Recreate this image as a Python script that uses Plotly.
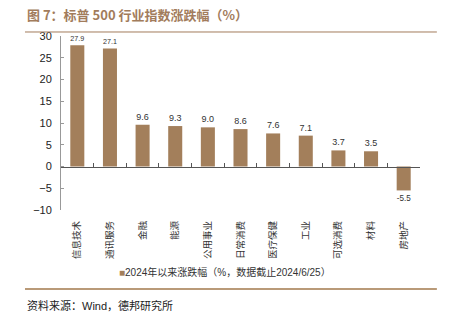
import plotly.graph_objects as go

# S&P 500 sector returns year-to-date (%)
sectors = ["信息技术", "通讯服务", "金融", "能源", "公用事业", "日常消费",
           "医疗保健", "工业", "可选消费", "材料", "房地产"]
returns = [27.9, 27.1, 9.6, 9.3, 9.0, 8.6, 7.6, 7.1, 3.7, 3.5, -5.5]
y_ticks = [-10, -5, 0, 5, 10, 15, 20, 25, 30]

series_name = "2024年以来涨跌幅（%，数据截止2024/6/25）"
title_text = "图 7：标普 500 行业指数涨跌幅（%）"
source_text = "资料来源：Wind，德邦研究所"

BAR = "#a37f5b"
BROWN = "#a27c5c"
FONT = "Liberation Sans, Noto Sans CJK SC, sans-serif"

fig = go.Figure()

fig.add_trace(go.Bar(
    x=sectors, y=returns, name=series_name,
    marker=dict(color=BAR, line=dict(width=0)),
    texttemplate="%{y:.1f}", textposition="outside",
    textfont=dict(size=9, color="#333333", family=FONT),
    cliponaxis=False, hoverinfo="x+y", showlegend=False,
))

# invisible companion trace carrying the category axis drawn at y = 0
fig.add_trace(go.Scatter(
    x=sectors, y=[0] * len(sectors), xaxis="x2", mode="markers",
    marker=dict(opacity=0), showlegend=False, hoverinfo="skip",
))

y_min, y_max = -10, 30
zero_frac = (0 - y_min) / (y_max - y_min)

fig.update_layout(
    width=449, height=326,
    margin=dict(l=61, r=29, t=36, b=116),
    paper_bgcolor="white", plot_bgcolor="white",
    font=dict(family=FONT, color="#333333"),
    bargap=0.57,
    showlegend=False,
    xaxis=dict(
        type="category", categoryorder="array", categoryarray=sectors,
        range=[-0.5, len(sectors) - 0.5],
        showline=False, ticks="", showgrid=False, zeroline=False,
        tickangle=-90, ticklabelstandoff=8,
        tickfont=dict(size=9.5, family="Noto Sans CJK SC", color="#333333"),
    ),
    xaxis2=dict(
        type="category", categoryorder="array", categoryarray=sectors,
        overlaying="x", anchor="free", position=zero_frac,
        range=[-0.5, len(sectors) - 0.5],
        showline=True, linecolor="#555555", linewidth=1,
        ticks="inside", tickson="boundaries", ticklen=4,
        tickcolor="#555555", tickwidth=1,
        showticklabels=False, showgrid=False, zeroline=False,
    ),
    yaxis=dict(
        range=[y_min, y_max], tickvals=y_ticks,
        showline=True, linecolor="#999999", linewidth=1,
        ticks="inside", ticklen=3, tickcolor="#999999",
        showgrid=False, zeroline=False,
        tickfont=dict(size=11, color="#222222"),
        ticklabelstandoff=6,
    ),
)

# series key below the category labels
fig.add_annotation(
    text=f"<span style='color:{BAR}'>■</span>{series_name}",
    xref="paper", yref="paper", x=0.457, y=-0.356,
    xanchor="center", yanchor="middle", showarrow=False,
    font=dict(size=10, color="#333333", family=FONT),
)

# title and header rule
fig.add_annotation(
    text=f"<b>{title_text}</b>", xref="paper", yref="paper",
    x=-0.1003, y=1.126, xanchor="left", yanchor="middle",
    showarrow=False,
    font=dict(size=13, color=BROWN, family="Noto Sans CJK SC"),
)
fig.add_shape(type="line", xref="paper", yref="paper",
              x0=-0.1003, x1=1.047, y0=1.023, y1=1.023,
              line=dict(color=BROWN, width=1))

# footer rule and source note
fig.add_shape(type="line", xref="paper", yref="paper",
              x0=-0.1003, x1=1.047, y0=-0.454, y1=-0.454,
              line=dict(color="#b99a78", width=2))
fig.add_annotation(
    text=source_text, xref="paper", yref="paper",
    x=-0.1003, y=-0.546, xanchor="left", yanchor="middle",
    showarrow=False,
    font=dict(size=11, color="#222222", family="Liberation Sans, Noto Sans CJK SC"),
)

fig.write_html("out.html")
